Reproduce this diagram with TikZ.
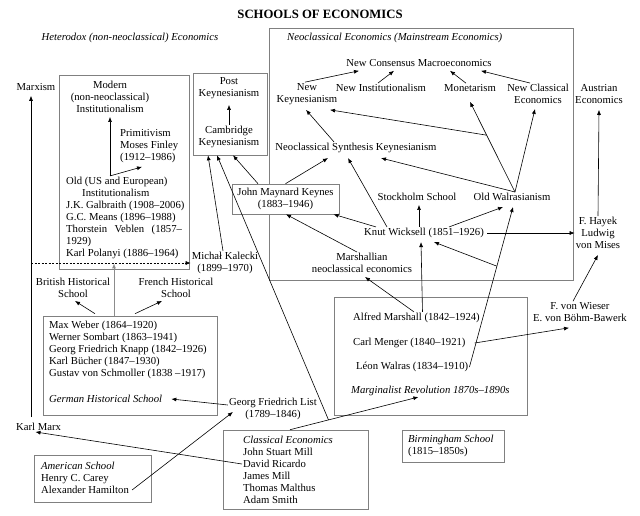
\documentclass[tikz,border=0pt]{standalone}
\usepackage{fontspec}
\setmainfont{Liberation Serif}
\usetikzlibrary{positioning, arrows.meta, calc}

\begin{document}
\begin{tikzpicture}[x=1pt, y=-1pt,
        every node/.style={font=\fontsize{10.7}{12}\selectfont, inner sep=1pt},
        term/.style={align=center},
        lst/.style={align=left, anchor=west},
        head/.style={font=\fontsize{10.7}{12}\selectfont\itshape},
        frame/.style={draw=black!50, line width=0.6pt, inner sep=0pt},
        rel/.style={->, >={Latex[length=5pt, width=4pt]}, line width=0.6pt}
    ]
        \useasboundingbox (0,0) rectangle (640,515);

        % titles
        \node[font=\fontsize{12.7}{14}\selectfont\bfseries] (title) at (320,14) {SCHOOLS OF ECONOMICS};
        \node[head] (hetero) at (130,38) {Heterodox (non-neoclassical) Economics};
        \node[head, anchor=west] (neolab) at (286,38) {Neoclassical Economics (Mainstream Economics)};

        % frames
        \node[frame, minimum width=304, minimum height=252] (neobox) at (421,154) {};
        \node[frame, minimum width=130, minimum height=194] (instbox) at (124,172) {};
        \node[frame, minimum width=74, minimum height=82] (pkbox) at (230,114) {};
        \node[frame, minimum width=174, minimum height=99] (gerbox) at (130,365.5) {};
        \node[frame, minimum width=193, minimum height=118] (margbox) at (430.5,356) {};
        \node[frame, minimum width=117, minimum height=47] (amerbox) at (92.5,478.5) {};
        \node[frame, minimum width=145, minimum height=79] (classbox) at (295.5,469.5) {};
        \node[frame, minimum width=102, minimum height=32] (birmbox) at (453,446) {};
        \node[frame, term, fill=white, minimum width=107, minimum height=30] (keynes) at (285.5,199) {John Maynard Keynes\\(1883--1946)};

        % heterodox side
        \node (marxism) at (36,87) {Marxism};
        \node[term] (modinst) at (110,97) {Modern\\(non-neoclassical)\\Institutionalism};
        \node[lst] (primit) at (119,146) {Primitivism\\Moses Finley\\(1912--1986)};
        \node[lst] (oldinst) at (65,218) {Old (US and European)\\\hspace*{16pt}Institutionalism\\J.K. Galbraith (1908--2006)\\G.C. Means (1896--1988)\\Thorstein\hspace{7.4pt}Veblen\hspace{7.4pt}(1857--\\1929)\\Karl Polanyi (1886--1964)};
        \node[term] (kalecki) at (225,263) {Michał Kalecki\\(1899--1970)};
        \node[term] (post) at (229,88) {Post\\Keynesianism};
        \node[term] (cambridge) at (229,137) {Cambridge\\Keynesianism};
        \node[term] (british) at (73,288) {British Historical\\School};
        \node[term] (french) at (176,288) {French Historical\\School};
        \node[lst] (german) at (48,350) {Max Weber (1864--1920)\\Werner Sombart (1863--1941)\\Georg Friedrich Knapp (1842--1926)\\Karl Bücher (1847--1930)\\Gustav von Schmoller (1838 --1917)};
        \node[head, anchor=west] (gerhist) at (48,399) {German Historical School};
        \node (marx) at (38.5,427) {Karl Marx};
        \node[term] (list) at (273,409) {Georg Friedrich List\\(1789--1846)};
        \node[lst] (american) at (40,478) {\textit{American School}\\Henry C. Carey\\Alexander Hamilton};
        \node[lst] (classical) at (242,469.5) {\textit{Classical Economics}\\John Stuart Mill\\David Ricardo\\James Mill\\Thomas Malthus\\Adam Smith};
        \node[lst] (birm) at (407,445.5) {\textit{Birmingham School}\\(1815--1850s)};

        % marginalists
        \node[anchor=west] (alfred) at (352,318) {Alfred Marshall (1842--1924)};
        \node[anchor=west] (menger) at (352,343) {Carl Menger (1840--1921)};
        \node[anchor=west] (walras) at (355,367) {Léon Walras (1834--1910)};
        \node[head, anchor=west] (margrev) at (350,391) {Marginalist Revolution 1870s--1890s};

        % neoclassical side
        \node (ncm) at (419,63) {New Consensus Macroeconomics};
        \node[term] (newk) at (307,94) {New\\Keynesianism};
        \node (newinst) at (381,88) {New Institutionalism};
        \node (monet) at (470,88) {Monetarism};
        \node[term] (newclass) at (538,94) {New Classical\\Economics};
        \node[term] (austrian) at (599,94) {Austrian\\Economics};
        \node (nsk) at (356,148) {Neoclassical Synthesis Keynesianism};
        \node (stock) at (417,197) {Stockholm School};
        \node (oldwal) at (512,197) {Old Walrasianism};
        \node (wicksell) at (424,233) {Knut Wicksell (1851--1926)};
        \node[term] (marsh) at (362,263) {Marshallian\\neoclassical economics};
        \node[term] (hayek) at (598,233) {F. Hayek\\Ludwig\\von Mises};
        \node[term] (wieser) at (580,312) {F. von Wieser\\E. von Böhm-Bawerk};

        \coordinate (mcol) at ([xshift=-7.5pt, yshift=5pt]marx.north);
        \coordinate (oitop) at ([xshift=45pt]oldinst.north west);

        % heterodox links
        \draw[rel, shorten >=4pt] (mcol) -- (mcol |- marxism.south);
        \draw[rel, dash pattern=on 2pt off 1.5pt] (mcol |- kalecki.west) -- (kalecki.west);
        \draw[rel] (oitop) -- ([yshift=-3pt]modinst.south);
        \draw[rel] (oitop) -- ([xshift=23pt, yshift=-3pt]primit.south west);
        \draw[rel] ([xshift=-35pt, yshift=2pt]gerbox.north) -- ([xshift=2pt, yshift=-2pt]british.south);
        \draw[rel] ([xshift=5pt, yshift=2pt]gerbox.north) -- ([xshift=-14pt, yshift=-2pt]french.south);
        \draw[rel, black!45, line width=1pt] ([xshift=-16pt]gerbox.north) -- ([xshift=-10pt, yshift=6pt]instbox.south);
        \draw[rel] ([xshift=-2pt]kalecki.north) -- ([xshift=-22pt]pkbox.south);
        \draw[rel] ([xshift=-27.5pt]keynes.north) -- ([xshift=3pt]pkbox.south);
        \draw[rel] (cambridge.north) -- ([yshift=-5pt]post.south);
        \draw[rel] ([yshift=4pt]list.west) -- ([xshift=8pt]gerhist.east);
        \draw[rel] ([xshift=2pt, yshift=-12pt]american.east) -- ([xshift=5pt, yshift=-3pt]list.west);
        \draw[rel] ([yshift=5.5pt]classical.west) -- ([xshift=-3pt]marx.south);
        \draw[rel] ([xshift=-5.5pt]classbox.north) -- coordinate[pos=.3] (clsj) ([xshift=-12pt]margrev.south);
        \draw[rel] (clsj) -- ([xshift=-13pt]pkbox.south);

        % marginalist links
        \draw[rel] ([xshift=-2.5pt]alfred.north) -- ([xshift=3pt, yshift=-3pt]marsh.south);
        \draw[rel] ([xshift=6pt]alfred.north) -- ([xshift=-3pt, yshift=-3pt]wicksell.south);
        \draw[rel] (walras.east) -- coordinate[pos=.63] (wj) ([xshift=1pt, yshift=-5pt]oldwal.south);
        \draw[rel] (wj) -- ([xshift=10pt, yshift=-3pt]wicksell.south);
        \draw[rel] ([xshift=8pt]menger.east) -- ([xshift=-11pt, yshift=-5pt]wieser.south);

        % neoclassical links
        \draw[rel] ([xshift=-5pt]wicksell.north) -- ([xshift=2pt, yshift=-3pt]stock.south);
        \draw[rel] ([xshift=25pt]wicksell.north) -- ([xshift=-9pt, yshift=-5pt]oldwal.south);
        \draw[rel] ([xshift=2pt]wicksell.east) -- (hayek.west);
        \draw[rel] ([xshift=-48pt]wicksell.north) -- ([xshift=48pt]keynes.south);
        \draw[rel] ([xshift=-37pt]wicksell.north) -- ([xshift=-8pt, yshift=-4pt]nsk.south);
        \draw[rel] ([xshift=-5pt]marsh.north) -- ([xshift=0.5pt]keynes.south);
        \draw[rel] (keynes.north) -- ([xshift=-28pt, yshift=-4pt]nsk.south);
        \draw[rel] ([xshift=-22pt]nsk.north) -- ([xshift=-1pt, yshift=-4pt]newk.south);
        \draw[rel] ([xshift=3pt]oldwal.north) -- coordinate[pos=.63] (owm) ([yshift=-9pt]monet.south);
        \draw[rel] (owm) -- ([xshift=23pt, yshift=-4pt]newk.south);
        \draw[rel] ([xshift=3pt]oldwal.north) -- ([xshift=-3pt, yshift=-4pt]newclass.south);
        \draw[rel] ([xshift=3pt]oldwal.north) -- ([xshift=25pt, yshift=-4pt]nsk.south);
        \draw[rel] ([xshift=-2pt]newk.north) -- ([xshift=-60pt, yshift=-3pt]ncm.south);
        \draw[rel] ([xshift=-3pt]newinst.north) -- ([xshift=-25pt, yshift=-3pt]ncm.south);
        \draw[rel] ([xshift=-4pt]monet.north) -- ([xshift=31pt, yshift=-3pt]ncm.south);
        \draw[rel] ([xshift=-8pt]newclass.north) -- ([xshift=62pt, yshift=-3pt]ncm.south);
        \draw[rel] (hayek.north) -- ([yshift=-5pt]austrian.south);
        \draw[rel] ([xshift=-7pt]wieser.north) -- ([yshift=-5pt]hayek.south);

    \end{tikzpicture}
\end{document}
